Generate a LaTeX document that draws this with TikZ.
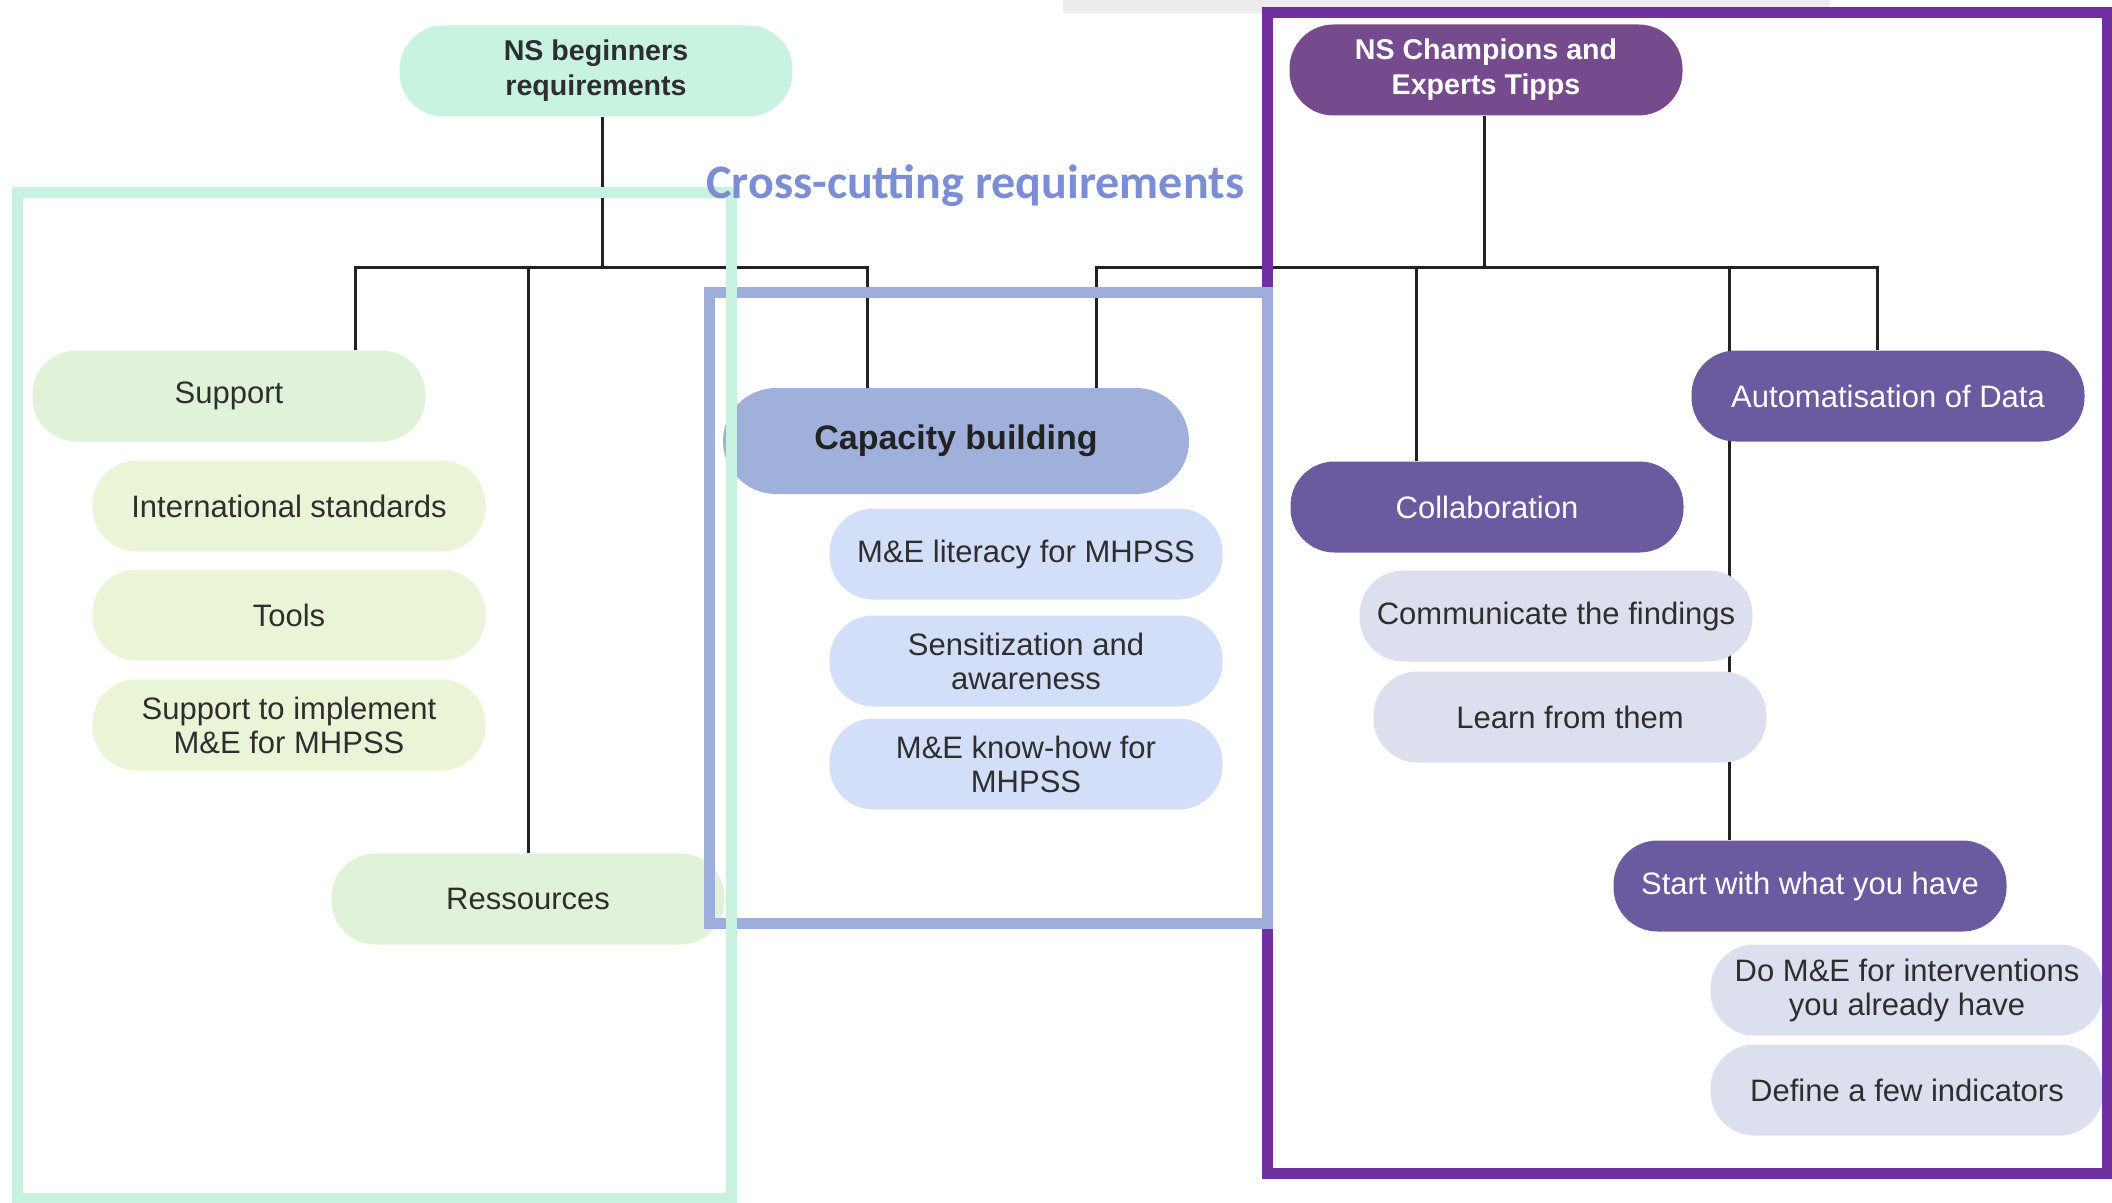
\documentclass[tikz,border=0pt]{standalone}
\usepackage{fontspec}
\setmainfont{Liberation Sans}
\newfontfamily\titlefont{Carlito}
\usetikzlibrary{backgrounds}

\definecolor{mint}{HTML}{C9F3E1}
\definecolor{leaf}{HTML}{E0F3D8}
\definecolor{lime}{HTML}{EAF5D8}
\definecolor{capblue}{HTML}{9FB0DB}
\definecolor{paleblue}{HTML}{D3DEF9}
\definecolor{champ}{HTML}{764B8E}
\definecolor{violet}{HTML}{6B5A9F}
\definecolor{lavender}{HTML}{DCE0EE}
\definecolor{framepurple}{HTML}{7030A0}
\definecolor{frameblue}{HTML}{9DAEDB}
\definecolor{framegreen}{HTML}{C8F2E0}
\definecolor{crossblue}{HTML}{7B8ED5}
\definecolor{txtgrey}{HTML}{2E2E2E}
\definecolor{linegrey}{HTML}{222222}
\definecolor{band}{HTML}{EEECEA}

\begin{document}
\begin{tikzpicture}
		[x=0.5pt,y=-0.5pt,
		box/.style ={rectangle, rounded corners=22pt, minimum width=196.5pt, minimum height=45.5pt, inner sep=0pt, align=center, text=txtgrey, font=\fontsize{15.5}{17}\selectfont},
		head/.style ={box, font=\fontsize{14.3}{17.5}\selectfont\bfseries},
		light/.style ={box, fill=lavender},
		dark/.style ={box, fill=violet, text=white},
		conn/.style ={draw=linegrey, line width=1.5pt},
		frame/.style ={line width=5.5pt},
		]
		\useasboundingbox (0,0) rectangle (2112,1203);

		% left tree
		\node[head, fill=mint] (beg) at (596,71) {NS beginners\\requirements};
		\node[box, fill=leaf] (sup) at (229,396) {Support};
		\node[box, fill=lime] (std) at (289,506) {International standards};
		\node[box, fill=lime] (tools) at (289,615) {Tools};
		\node[box, fill=lime] (impl) at (289,725) {Support to implement\\M\&E for MHPSS};
		\node[box, fill=leaf] (res) at (528,899) {Ressources};

		% middle
		\node[box, fill=capblue, minimum width=233pt, minimum height=53pt, rounded corners=26.5pt, font=\fontsize{17}{20}\selectfont\bfseries, text=linegrey] (cap) at (956,441) {Capacity building};
		\node[box, fill=paleblue] (lit) at (1026,554) {M\&E literacy for MHPSS};
		\node[box, fill=paleblue] (sens) at (1026,661) {Sensitization and\\awareness};
		\node[box, fill=paleblue] (know) at (1026,764) {M\&E know-how for\\MHPSS};

		% right tree
		\node[head, fill=champ, text=white] (cha) at (1486,70) {NS Champions and\\Experts Tipps};
		\node[dark] (col) at (1487,507) {Collaboration};
		\node[dark] (auto) at (1888,396) {Automatisation of Data};
		\node[light] (comm) at (1556,616) {Communicate the findings};
		\node[light] (learn) at (1570,717) {Learn from them};
		\node[dark] (start) at (1810,886) {Start with what you have};
		\node[light] (dome) at (1907,990) {Do M\&E for interventions\\you already have};
		\node[light] (indic) at (1907,1090) {Define a few indicators};

		\coordinate (kl) at (602,268);
		\coordinate (kr) at (1484,268);

		\begin{scope}[on background layer]
		\fill[band] (1063,0) rectangle (1830,13);
		\draw[conn] ([xshift=3pt]beg.south) -- (kl);
		\draw[conn] ([xshift=63pt]sup.north) |- (kl);
		\draw[conn] (res.north) |- (kl);
		\draw[conn] ([xshift=-44.5pt]cap.north) |- (kl);
		\draw[conn] ([xshift=-1pt]cha.south) -- (kr);
		\draw[conn] ([xshift=70pt]cap.north) |- (kr);
		\draw[conn] ([xshift=-35.5pt]col.north) |- (kr);
		\draw[conn] ([xshift=-40.5pt]start.north) |- (kr);
		\draw[conn] ([xshift=-5.5pt]auto.north) |- (kr);
		\end{scope}

		% frames
		\draw[frame, framepurple] (1267,12.5) rectangle (2107,1173);
		\draw[frame, frameblue] (709,293) rectangle (1267,923);
		\draw[frame, framegreen] (17,193) rectangle (731,1198);

		\node[anchor=base west, inner sep=0pt, text=crossblue, font=\titlefont\fontsize{24}{28}\selectfont\bfseries] (cross) at (706,199) {Cross-cutting requirements};
	\end{tikzpicture}
\end{document}
